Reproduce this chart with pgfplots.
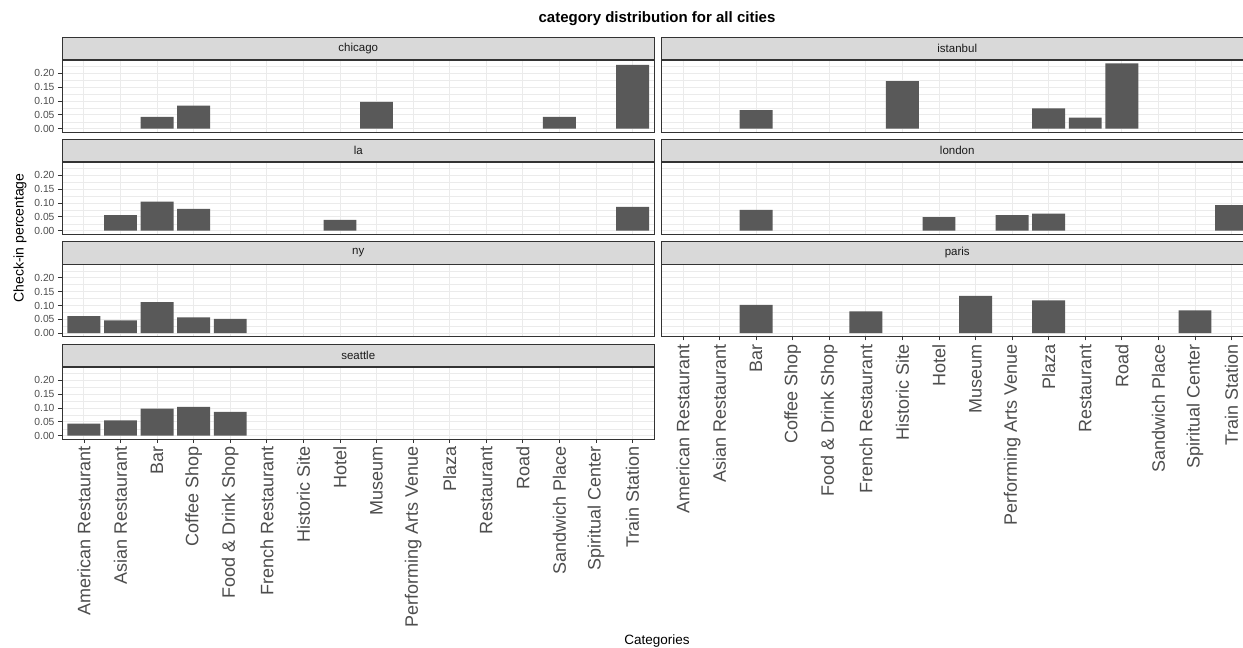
\documentclass[border=0pt]{standalone}
\usepackage{pgfplots}
\pgfplotsset{compat=1.18}
\usepackage{fontspec}
\setmainfont{Liberation Sans}

\definecolor{grey10}{HTML}{1A1A1A}
\definecolor{grey20}{HTML}{333333}
\definecolor{grey30}{HTML}{4D4D4D}
\definecolor{grey35}{HTML}{595959}
\definecolor{grey85}{HTML}{D9D9D9}
\definecolor{grey92}{HTML}{EBEBEB}

% one facet panel, ggplot theme_bw look
\pgfplotsset{
  every axis title shift=0pt,
  facet/.style={
    scale only axis, width=592.5pt, height=72pt,
    xmin=0.4, xmax=16.6, ymin=-0.0118, ymax=0.2478,
    xtick={1,...,16}, ytick={0,0.05,0.10,0.15,0.20},
    minor ytick={0.025,0.075,0.125,0.175,0.225},
    xtick pos=lower, ytick pos=left,
    grid=both,
    major grid style={grey92, line width=0.9pt},
    minor grid style={grey92, line width=0.5pt},
    axis line style={grey20, line width=0.9pt},
    tick align=outside, major tick length=4pt, minor tick length=0pt,
    tick style={grey20, line width=0.8pt},
    yticklabel style={font=\fontsize{10.3}{12}\selectfont, text=grey30,
      /pgf/number format/fixed, /pgf/number format/fixed zerofill,
      /pgf/number format/precision=2, /pgf/number format/assume math mode=true},
    title style={at={(0.5,1)}, anchor=south, draw=grey20, fill=grey85,
      line width=0.9pt, minimum width=592.5pt, minimum height=22.5pt,
      inner sep=0pt, font=\fontsize{11.5}{13}\selectfont, text=grey10},
    ybar, bar width=0.9, bar shift=0pt,
  },
  notx/.style={xticklabels={}, xtick style={draw=none}},
  noty/.style={yticklabels={}, ytick style={draw=none}},
  catx/.style={
    xticklabels={American Restaurant, Asian Restaurant, Bar, Coffee Shop,
      Food \& Drink Shop, French Restaurant, Historic Site, Hotel, Museum,
      Performing Arts Venue, Plaza, Restaurant, Road, Sandwich Place,
      Spiritual Center, Train Station},
    xticklabel style={rotate=90, anchor=east,
      font=\fontsize{18}{20}\selectfont, text=grey30},
  },
}

\begin{document}
\begin{tikzpicture}
\useasboundingbox (0,0) rectangle (1243pt,648pt);
\clip (0,0) rectangle (1243pt,648pt);

% chicago
\begin{axis}[facet, notx, title={chicago}, at={(62pt,516pt)}, anchor=south west]
\addplot[fill=grey35, draw=none] coordinates {(3,0.043) (4,0.083) (9,0.097) (14,0.043) (16,0.230)};
\end{axis}
% istanbul
\begin{axis}[facet, notx, noty, title={istanbul}, at={(661pt,516pt)}, anchor=south west]
\addplot[fill=grey35, draw=none] coordinates {(3,0.067) (7,0.172) (11,0.073) (12,0.040) (13,0.236)};
\end{axis}
% la
\begin{axis}[facet, notx, title={la}, at={(62pt,414pt)}, anchor=south west]
\addplot[fill=grey35, draw=none] coordinates {(2,0.056) (3,0.105) (4,0.079) (8,0.039) (16,0.086)};
\end{axis}
% london
\begin{axis}[facet, notx, noty, title={london}, at={(661pt,414pt)}, anchor=south west]
\addplot[fill=grey35, draw=none] coordinates {(3,0.075) (8,0.049) (10,0.056) (11,0.062) (16,0.092)};
\end{axis}
% ny
\begin{axis}[facet, notx, title={ny}, at={(62pt,311.5pt)}, anchor=south west]
\addplot[fill=grey35, draw=none] coordinates {(1,0.062) (2,0.046) (3,0.112) (4,0.057) (5,0.052)};
\end{axis}
% paris
\begin{axis}[facet, catx, noty, title={paris}, at={(661pt,311.5pt)}, anchor=south west]
\addplot[fill=grey35, draw=none] coordinates {(3,0.102) (6,0.079) (9,0.135) (11,0.118) (15,0.082)};
\end{axis}
% seattle
\begin{axis}[facet, catx, title={seattle}, at={(62pt,209pt)}, anchor=south west]
\addplot[fill=grey35, draw=none] coordinates {(1,0.044) (2,0.055) (3,0.098) (4,0.104) (5,0.086)};
\end{axis}

\node[font=\bfseries\fontsize{15}{18}\selectfont] at (657pt,629pt) {category distribution for all cities};
\node[rotate=90, font=\fontsize{14}{16}\selectfont] at (20pt,410pt) {Check-in percentage};
\node[font=\fontsize{13.5}{15}\selectfont] at (657pt,7pt) {Categories};
\end{tikzpicture}
\end{document}
